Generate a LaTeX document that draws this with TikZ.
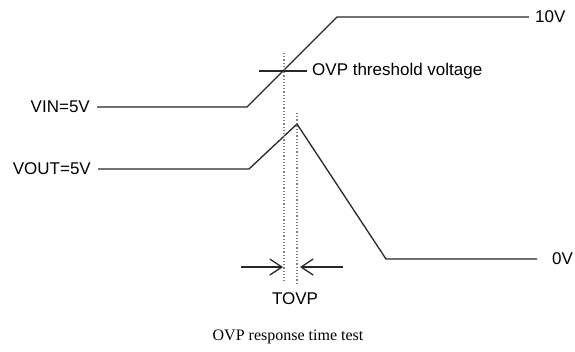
\documentclass[tikz,border=0pt]{standalone}
\usepackage{fontspec}
\setmainfont{Liberation Serif}
\setsansfont{Liberation Sans}
\usetikzlibrary{arrows.meta, positioning}
\tikzstyle{signal} = [draw, line width=1.3pt, black!85, line join=round]
\tikzstyle{level} = [font=\sffamily\fontsize{17}{20}\selectfont, inner sep=2pt]
\tikzstyle{marker} = [draw, black!50, dotted, line width=1.2pt]
\tikzstyle{timing} = [draw, -{Straight Barb[length=12pt,width=16pt]}, line width=1.3pt, black!85]

\begin{document}
\begin{tikzpicture}[x=1pt, y=-1pt]
    \useasboundingbox (0,0) rectangle (575,351);

    % input voltage
    \coordinate (vin0) at (97,107);
    \coordinate (vin1) at (247,107);
    \coordinate (vin2) at (337,17);
    \coordinate (vin3) at (529,17);
    \path [signal] (vin0) -- (vin1) -- (vin2) -- (vin3);
    \node [level, left=5pt of vin0] (vinLabel) {VIN=5V};
    \node [level, right=4pt of vin3] (tenV) {10V};

    % threshold
    \coordinate (thrL) at (259,71);
    \coordinate (thrR) at (307,71);
    \path [signal, line width=2.2pt] (thrL) -- (thrR);
    \node [level, right=3pt of thrR] (thrLabel) {OVP threshold voltage};

    % output voltage
    \coordinate (vout0) at (98,169);
    \coordinate (vout1) at (249,169);
    \coordinate (vout2) at (297,124);
    \coordinate (vout3) at (386,259);
    \coordinate (vout4) at (537,259);
    \path [signal] (vout0) -- (vout1) -- (vout2) -- (vout3) -- (vout4);
    \node [level, left=5pt of vout0] (voutLabel) {VOUT=5V};
    \node [level, right=13pt of vout4] (zeroV) {0V};

    % markers
    \coordinate (m1top) at (284,53);
    \coordinate (m1bot) at (284,283);
    \coordinate (m2top) at (297,113);
    \coordinate (m2bot) at (297,283);
    \path [marker] (m1top) -- (m1bot);
    \path [marker] (m2top) -- (m2bot);

    % response time
    \coordinate (arrL) at (241,267);
    \coordinate (arrR) at (343,267);
    \path [timing] (arrL) -- ([xshift=-1pt]m1bot |- arrL);
    \path [timing] (arrR) -- ([xshift=3pt]m2bot |- arrR);
    \node [level] (tovp) at (295,299) {TOVP};

    \node [font=\fontsize{16}{18}\selectfont] (caption) at (288,337) {OVP response time test};
\end{tikzpicture}
\end{document}
